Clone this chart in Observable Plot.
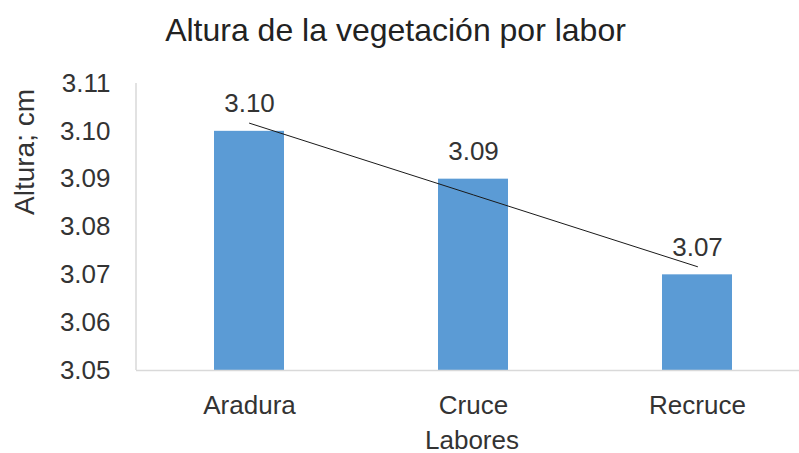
<!DOCTYPE html>
<html><head><meta charset="utf-8">
<script src="https://cdn.jsdelivr.net/npm/d3@7"></script>
<script src="https://cdn.jsdelivr.net/npm/@observablehq/plot@0.6"></script>
<style>
body{margin:0;background:#fff;font-family:"Liberation Sans",Arial,sans-serif;overflow:hidden;}
#title{height:60px;box-sizing:border-box;padding-top:14px;font-size:32px;line-height:32px;text-align:center;color:#222;width:791px;}
</style></head><body>
<div id="title">Altura de la vegetación por labor</div>
<div id="chart"></div>
<script>
const categories = ["Aradura", "Cruce", "Recruce"];
const alturas = [3.10, 3.09, 3.07];
const tendencia = [3.1017, 3.0867, 3.0717];
const yTicks = [3.05, 3.06, 3.07, 3.08, 3.09, 3.10, 3.11];
const yLabel = "Altura; cm";
const xLabel = "Labores";

const data = categories.map((c, i) => ({labor: c, altura: alturas[i], trend: tendencia[i]}));

const W = 799, H = 393, mL = 136, mT = 23, mB = 83;
const leftAxisLine = (index, scales, values, dims) =>
  d3.create("svg:line")
    .attr("x1", dims.marginLeft).attr("x2", dims.marginLeft)
    .attr("y1", dims.marginTop).attr("y2", dims.height - dims.marginBottom)
    .attr("stroke", "#d9d9d9").attr("stroke-width", 1.5).node();

const chart = Plot.plot({
  width: W, height: H,
  marginLeft: mL, marginRight: 0, marginTop: mT, marginBottom: mB,
  style: {fontFamily: "Liberation Sans, Arial, sans-serif", background: "#fff", overflow: "visible"},
  x: {type: "band", domain: categories, range: [mL, W + 10], paddingInner: 0.688, paddingOuter: 0.344},
  y: {domain: [yTicks[0], yTicks[yTicks.length - 1]]},
  marks: [
    Plot.barY(data, {x: "labor", y1: () => yTicks[0], y2: "altura", fill: "#5b9bd5"}),
    Plot.ruleY([yTicks[0]], {stroke: "#d9d9d9", strokeWidth: 1.5}),
    leftAxisLine,
    Plot.line(data, {x: "labor", y: "trend", stroke: "#1a1a1a", strokeWidth: 1}),
    Plot.text(data, {x: "labor", y: "altura", text: d => d.altura.toFixed(2), dy: -19, lineAnchor: "bottom", fontSize: 26, fill: "#333"}),
    Plot.axisX({tickSize: 0, tickPadding: 25, fontSize: 26, label: null, color: "#333"}),
    Plot.axisY({ticks: yTicks, tickFormat: d3.format(".2f"), tickSize: 0, tickPadding: 26, fontSize: 26, label: null, color: "#333"}),
    Plot.text([yLabel], {frameAnchor: "top-left", rotate: -90, dx: -103, dy: 68.5, lineAnchor: "bottom", textAnchor: "middle", fontSize: 28, fill: "#333"}),
    Plot.text([xLabel], {frameAnchor: "bottom", dx: 4, dy: 78, lineAnchor: "bottom", fontSize: 26, fill: "#333"})
  ]
});
document.getElementById("chart").append(chart);
</script>
</body></html>
